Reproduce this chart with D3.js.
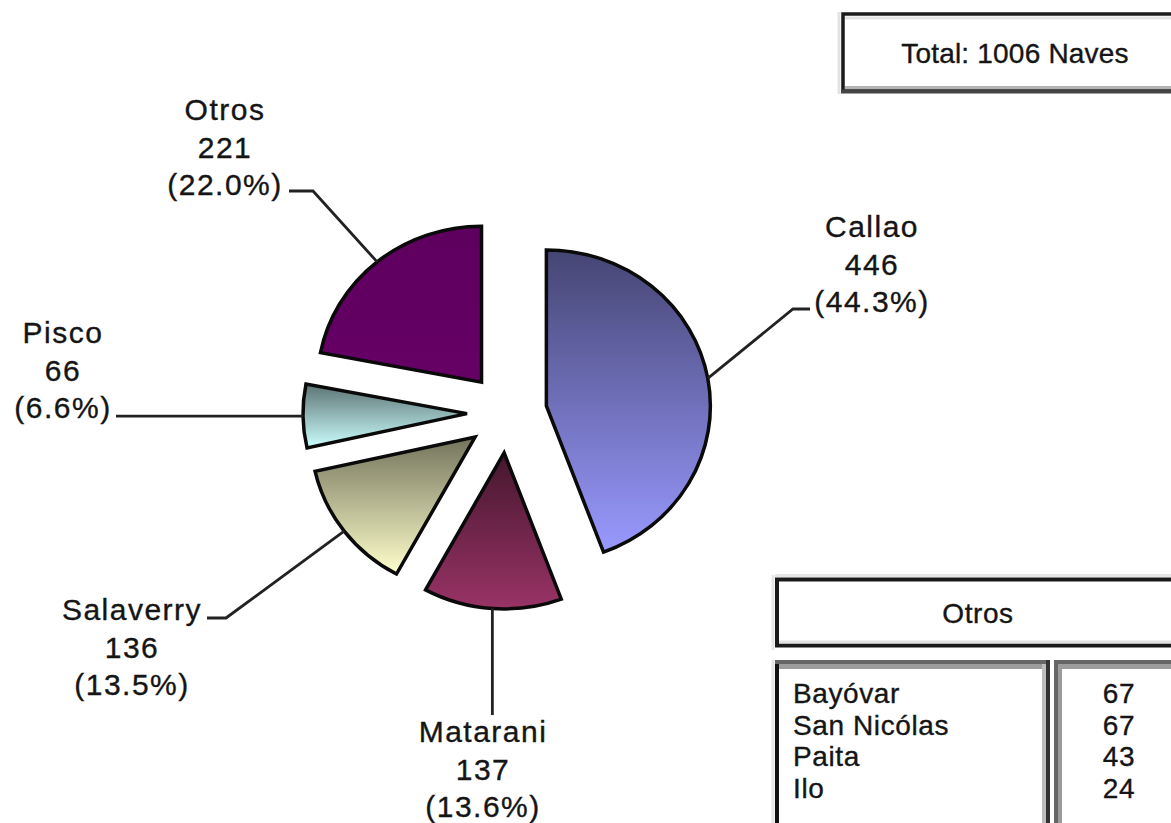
<!DOCTYPE html>
<html>
<head>
<meta charset="utf-8">
<script src="https://cdn.jsdelivr.net/npm/d3@7"></script>
<style>
  html, body { margin: 0; padding: 0; background: #fff; }
  svg { display: block; }
  text { font-family: "Liberation Sans", Arial, sans-serif; fill: #151515; stroke: #151515; stroke-width: 0.35px; }
</style>
</head>
<body>
<svg id="chart" width="1171" height="823"></svg>
<script>
// ---- data ----
const ports = ["Callao", "Matarani", "Salaverry", "Pisco", "Otros"];
const naves = [446, 137, 136, 66, 221];
const sliceColors = ["#9999FF", "#993366", "#FFFFCC", "#CCFFFF", "#660066"];
const shadeTop = [0.45, 0.45, 0.45, 0.45, 0.92];
const otrosNames = ["Bayóvar", "San Nicólas", "Paita", "Ilo"];
const otrosValues = [67, 67, 43, 24];
const unitLabel = "Naves";

// ---- layout (not data) ----
const W = 1171, H = 823;
const cx = 507, cy = 413, explode = 40, rx = 164, ry = 156;
const labelLayout = [
  { tx: 872, ty: 237, elbow: [793, 309], end: [810, 309] },
  { tx: 483, ty: 742, elbow: null, end: [null, 715] },
  { tx: 132, ty: 620, elbow: [226, 618], end: [207, 618] },
  { tx: 63,  ty: 343, elbow: null, end: [116, null] },
  { tx: 225, ty: 120, elbow: [313, 191], end: [289, 191] }
];
const lineStep = 37.5;

const svg = d3.select("#chart");
const total = d3.sum(naves);
const data = ports.map((p, i) => ({ port: p, value: naves[i], color: sliceColors[i], i }));

const pie = d3.pie().sort(null).value(d => d.value).startAngle(0).endAngle(2 * Math.PI);
const arcs = pie(data);
const arc = d3.arc().innerRadius(0).outerRadius(ry);

// gradients
const defs = svg.append("defs");
arcs.forEach((a, i) => {
  const base = d3.rgb(a.data.color);
  const top = d3.rgb(base.r * shadeTop[i], base.g * shadeTop[i], base.b * shadeTop[i]);
  const g = defs.append("linearGradient")
    .attr("id", "grad" + i)
    .attr("x1", 0).attr("y1", 0).attr("x2", 0).attr("y2", 1);
  g.append("stop").attr("offset", "0%").attr("stop-color", top.formatHex());
  g.append("stop").attr("offset", "100%").attr("stop-color", base.formatHex());
});

const sx = rx / ry;
function vertexOf(a) {
  const mid = (a.startAngle + a.endAngle) / 2;
  return [cx + explode * Math.sin(mid), cy - explode * Math.cos(mid)];
}
function outerMid(a) {
  const mid = (a.startAngle + a.endAngle) / 2;
  const v = vertexOf(a);
  return [v[0] + rx * Math.sin(mid), v[1] - ry * Math.cos(mid)];
}

// slices
svg.append("g").selectAll("path")
  .data(arcs)
  .join("path")
  .attr("transform", a => { const v = vertexOf(a); return `translate(${v[0]},${v[1]}) scale(${sx},1)`; })
  .attr("d", arc)
  .attr("fill", (a, i) => `url(#grad${i})`)
  .attr("stroke", "#0a0a0a")
  .attr("stroke-width", 3.5)
  .attr("stroke-linejoin", "miter")
  .attr("vector-effect", "non-scaling-stroke");

// leader lines
svg.append("g").selectAll("polyline")
  .data(arcs)
  .join("polyline")
  .attr("points", (a, i) => {
    const s = outerMid(a);
    const L = labelLayout[i];
    const pts = [s];
    if (L.elbow) pts.push(L.elbow);
    pts.push([L.end[0] == null ? s[0] : L.end[0], L.end[1] == null ? s[1] : L.end[1]]);
    return pts.map(p => p.join(",")).join(" ");
  })
  .attr("fill", "none")
  .attr("stroke", "#222")
  .attr("stroke-width", 2.8);

// labels
const lbl = svg.append("g").selectAll("text")
  .data(arcs)
  .join("text")
  .attr("text-anchor", "middle")
  .attr("font-size", 30)
  .attr("letter-spacing", 1.5)
  .attr("x", (a, i) => labelLayout[i].tx)
  .attr("y", (a, i) => labelLayout[i].ty);
lbl.each(function (a, i) {
  const t = d3.select(this);
  const L = labelLayout[i];
  const lines = [a.data.port, String(a.data.value), "(" + (a.data.value / total * 100).toFixed(1) + "%)"];
  lines.forEach((s, k) => t.append("tspan").attr("x", L.tx).attr("y", L.ty + k * lineStep).text(s));
});

// ---- Total box ----
const tb = svg.append("g");
tb.append("line").attr("x1", 839).attr("x2", 839).attr("y1", 12).attr("y2", 94).attr("stroke", "#e3e3e3").attr("stroke-width", 3);
tb.append("rect").attr("x", 843).attr("y", 14).attr("width", 400).attr("height", 77)
  .attr("fill", "#fff").attr("stroke", "#1a1a1a").attr("stroke-width", 3.5);
tb.append("line").attr("x1", 845).attr("x2", 1171).attr("y1", 18).attr("y2", 18).attr("stroke", "#e2e2e2").attr("stroke-width", 3);
tb.append("line").attr("x1", 845).attr("x2", 1171).attr("y1", 87.5).attr("y2", 87.5).attr("stroke", "#b3b3b3").attr("stroke-width", 3);
tb.append("line").attr("x1", 841).attr("x2", 1171).attr("y1", 91.5).attr("y2", 91.5).attr("stroke", "#444").attr("stroke-width", 4);
tb.append("text").attr("x", 1015).attr("y", 63).attr("text-anchor", "middle")
  .attr("font-size", 28).attr("letter-spacing", 0.2)
  .text(`Total: ${total} ${unitLabel}`);

// ---- Otros box ----
const ob = svg.append("g");
ob.append("line").attr("x1", 773).attr("x2", 773).attr("y1", 575).attr("y2", 650).attr("stroke", "#e6e6e6").attr("stroke-width", 3);
ob.append("line").attr("x1", 775).attr("x2", 1171).attr("y1", 575.5).attr("y2", 575.5).attr("stroke", "#e6e6e6").attr("stroke-width", 3);
ob.append("rect").attr("x", 777).attr("y", 579.5).attr("width", 450).attr("height", 66)
  .attr("fill", "#fff").attr("stroke", "#1a1a1a").attr("stroke-width", 4);
ob.append("line").attr("x1", 779).attr("x2", 1171).attr("y1", 642).attr("y2", 642).attr("stroke", "#e2e2e2").attr("stroke-width", 3);
ob.append("text").attr("x", 978).attr("y", 623).attr("text-anchor", "middle")
  .attr("font-size", 28).attr("letter-spacing", 0.6)
  .text(ports[4]);

// ---- Otros breakdown ----
const bx = svg.append("g");
// left box
bx.append("line").attr("x1", 773).attr("x2", 773).attr("y1", 660).attr("y2", 823).attr("stroke", "#e6e6e6").attr("stroke-width", 3);
bx.append("line").attr("x1", 777).attr("x2", 777).attr("y1", 660).attr("y2", 823).attr("stroke", "#111").attr("stroke-width", 4);
bx.append("line").attr("x1", 775).attr("x2", 1050).attr("y1", 662).attr("y2", 662).attr("stroke", "#666").attr("stroke-width", 4);
bx.append("line").attr("x1", 779).attr("x2", 1044).attr("y1", 666.5).attr("y2", 666.5).attr("stroke", "#9c9c9c").attr("stroke-width", 5);
bx.append("line").attr("x1", 1044).attr("x2", 1044).attr("y1", 664).attr("y2", 823).attr("stroke", "#bdbdbd").attr("stroke-width", 4);
bx.append("line").attr("x1", 1048).attr("x2", 1048).attr("y1", 660).attr("y2", 823).attr("stroke", "#333").attr("stroke-width", 4);
// right box
bx.append("line").attr("x1", 1056).attr("x2", 1056).attr("y1", 660).attr("y2", 823).attr("stroke", "#666").attr("stroke-width", 4);
bx.append("line").attr("x1", 1060).attr("x2", 1060).attr("y1", 664).attr("y2", 823).attr("stroke", "#9c9c9c").attr("stroke-width", 4);
bx.append("line").attr("x1", 1054).attr("x2", 1171).attr("y1", 662).attr("y2", 662).attr("stroke", "#666").attr("stroke-width", 4);
bx.append("line").attr("x1", 1058).attr("x2", 1171).attr("y1", 666.5).attr("y2", 666.5).attr("stroke", "#9c9c9c").attr("stroke-width", 5);

const rowY = d3.scalePoint().domain(d3.range(otrosNames.length)).range([703, 798]);
bx.append("g").selectAll("text").data(otrosNames).join("text")
  .attr("x", 793).attr("y", (d, i) => rowY(i))
  .attr("font-size", 28).attr("letter-spacing", 0.6)
  .text(d => d);
bx.append("g").selectAll("text").data(otrosValues).join("text")
  .attr("x", 1119).attr("y", (d, i) => rowY(i)).attr("text-anchor", "middle")
  .attr("font-size", 28).attr("letter-spacing", 0.6)
  .text(d => d);
</script>
</body>
</html>
